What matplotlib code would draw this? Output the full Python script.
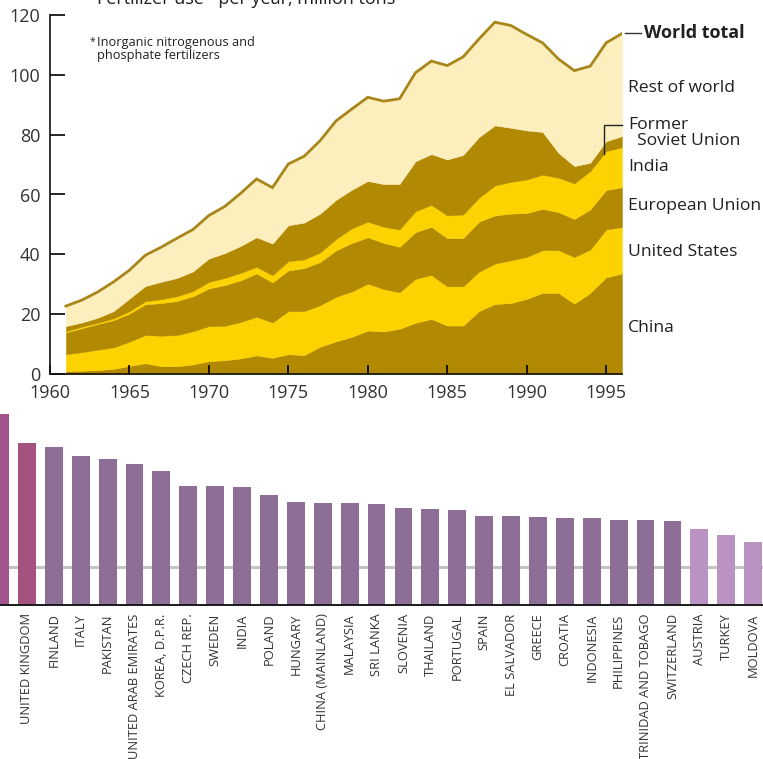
import matplotlib
matplotlib.use('Agg')
import matplotlib.pyplot as plt
import numpy as np

plt.rcParams['font.family'] = ['Open Sans', 'DejaVu Sans']

# fertilizer use by region, million tons per year
years = list(range(1961, 1997))
china = [0.9, 1.1, 1.3, 1.7, 2.7, 3.6, 2.6, 2.6, 3.2, 4.3, 4.6, 5.2, 6.2, 5.4, 6.6, 6.3,
         9.1, 10.9, 12.4, 14.5, 14.2, 15.1, 17.1, 18.4, 16.2, 16.2, 21.0, 23.4, 23.7, 25.1,
         27.1, 27.1, 23.5, 27.1, 32.3, 33.6]
united_states = [5.7, 6.2, 6.8, 7.2, 8.1, 9.4, 10.2, 10.4, 11.1, 11.7, 11.5, 12.2, 12.9, 11.8,
                 14.4, 14.7, 13.9, 14.9, 15.2, 15.7, 14.2, 12.2, 14.7, 14.7, 13.1, 13.1, 13.2,
                 13.5, 14.3, 14.0, 14.3, 14.3, 15.6, 14.5, 16.0, 15.5]
european_union = [7.3, 8.0, 8.6, 9.1, 9.4, 10.3, 10.9, 11.4, 11.7, 12.6, 13.6, 13.9, 14.5, 13.4,
                  13.6, 14.4, 14.4, 15.5, 16.2, 15.5, 15.4, 15.2, 15.6, 16.1, 16.1, 16.1, 16.7,
                  16.1, 15.6, 14.7, 13.8, 12.7, 12.7, 13.4, 13.2, 13.3]
india = [0.4, 0.5, 0.4, 0.6, 0.8, 1.0, 1.3, 1.6, 1.7, 2.2, 2.4, 2.5, 2.2, 2.4, 3.1, 2.9, 3.2,
         3.8, 4.9, 5.2, 5.4, 5.8, 7.0, 7.3, 7.6, 7.9, 8.0, 10.0, 10.6, 11.2, 11.4, 11.5, 11.9,
         12.8, 13.0, 13.4]
former_ussr = [1.7, 1.4, 1.7, 2.4, 4.2, 5.1, 5.8, 6.1, 6.6, 7.8, 8.3, 9.0, 9.9, 10.6, 12.0,
               12.3, 13.0, 13.1, 12.9, 13.6, 14.3, 15.2, 16.7, 17.0, 18.7, 19.9, 20.3, 20.1,
               18.1, 16.4, 14.3, 8.3, 5.8, 2.8, 3.3, 3.7]
rest_of_world = [6.7, 7.5, 8.6, 9.8, 9.5, 10.3, 11.6, 13.3, 14.0, 14.4, 15.6, 17.6, 19.5, 18.7,
                 20.5, 22.2, 24.4, 26.4, 27.0, 28.0, 27.7, 28.5, 29.6, 31.1, 31.4, 32.8, 32.8,
                 34.5, 34.2, 32.1, 29.8, 31.4, 31.9, 32.3, 32.9, 34.3]

series_labels = ['China', 'United States', 'European Union', 'India',
                 'Former\n  Soviet Union', 'Rest of world']
label_y = [15.4, 40.8, 56.2, 69.2, 80.6, 95.7]

# bar chart (left-most bar is cut off in the original)
countries = ['', 'UNITED KINGDOM', 'FINLAND', 'ITALY', 'PAKISTAN', 'UNITED ARAB EMIRATES',
             'KOREA, D.P.R.', 'CZECH REP.', 'SWEDEN', 'INDIA', 'POLAND', 'HUNGARY',
             'CHINA (MAINLAND)', 'MALAYSIA', 'SRI LANKA', 'SLOVENIA', 'THAILAND', 'PORTUGAL',
             'SPAIN', 'EL SALVADOR', 'GREECE', 'CROATIA', 'INDONESIA', 'PHILIPPINES',
             'TRINIDAD AND TOBAGO', 'SWITZERLAND', 'AUSTRIA', 'TURKEY', 'MOLDOVA']
bar_values = [191, 162, 158, 149, 146, 141, 134, 119, 119, 118, 110, 103, 102, 102, 101,
              97, 96, 95, 89, 89, 88, 87, 87, 85, 85, 84, 76, 70, 63]
reference_value = 38

DARK = '#B28903'
YELLOW = '#FCD200'
CREAM = '#FDEEBE'
LINE = '#A8861A'
TEXT = '#231F20'

fig = plt.figure(figsize=(7.63, 7.59), dpi=100)

# ---- top: stacked area chart ----
ax1 = fig.add_axes([50 / 763, 1 - 374 / 759, 572 / 763, 359 / 759])
layers = [china, united_states, european_union, india, former_ussr, rest_of_world]
ax1.stackplot(years, *layers, colors=[DARK, YELLOW, DARK, YELLOW, DARK, CREAM],
              edgecolor='face', linewidth=0.3)
total = np.sum(np.array(layers), axis=0)
ax1.plot(years, total, color=LINE, lw=2, solid_joinstyle='miter')

ax1.set_xlim(1960, 1996)
ax1.set_ylim(0, 120)
ax1.set_xticks(range(1960, 1996, 5))
ax1.set_yticks(range(0, 121, 20))
for s in ['top', 'right']:
    ax1.spines[s].set_visible(False)
for s in ['left', 'bottom']:
    ax1.spines[s].set_linewidth(1.2)
    ax1.spines[s].set_color('#111111')
    ax1.spines[s].set_zorder(5)
ax1.tick_params(axis='y', direction='in', length=11, width=1.2, pad=7,
                labelsize=13, labelcolor='#333333')
ax1.tick_params(axis='x', direction='in', length=6.5, width=1.2, pad=7,
                labelsize=13, labelcolor='#333333')
ax1.patch.set_alpha(0)

for lab, ly in zip(series_labels, label_y):
    ax1.text(1996.4, ly, lab, fontsize=12.6, color=TEXT, va='center', ha='left',
             clip_on=False, linespacing=1.0)
ax1.text(1997.4, 114.0, 'World total', fontsize=13, fontweight='bold', color=TEXT,
         va='center', ha='left', clip_on=False)
ax1.plot([1996.2, 1997.2], [114.0, 114.0], color='#333333', lw=1, clip_on=False)
# leader for Former Soviet Union
ax1.plot([1994.85, 1994.85, 1996.0], [73.5, 83.3, 83.3], color='#222222', lw=1,
         clip_on=False, zorder=6)

ax1.text(1962.5, 111.0, '*', fontsize=7.5, color=TEXT, va='center', ha='left')
ax1.text(1962.95, 108.5, 'Inorganic nitrogenous and\nphosphate fertilizers', fontsize=9.2,
         color=TEXT, va='center', ha='left', linespacing=1.0)

fig.text(97 / 763, 1 - 4 / 759, 'Fertilizer use* per year, million tons', fontsize=13,
         color=TEXT, ha='left', va='baseline')

# ---- bottom: bar chart ----
ax2 = fig.add_axes([0, 1 - 605 / 759, 1, 205 / 759])
pos = np.arange(len(countries))
bar_colors = ['#A3548A', '#A5527F'] + ['#8C6E97'] * 24 + ['#BB93C3'] * 3
ax2.bar(pos, bar_values, width=0.663, color=bar_colors, zorder=2)
ax2.axhline(reference_value, color='#C4C4C4', lw=2.2, zorder=1)
ax2.set_xlim(1 - 20 / 27.15, 1 + 743 / 27.15)
ax2.set_ylim(0, 205)
ax2.set_yticks([])
ax2.set_xticks(pos)
ax2.set_xticklabels(countries, rotation=90, fontsize=9.3, color='#333333')
ax2.tick_params(axis='x', length=0, pad=6)
for s in ['top', 'right', 'left']:
    ax2.spines[s].set_visible(False)
ax2.spines['bottom'].set_linewidth(1.4)
ax2.spines['bottom'].set_color('#1a1a1a')
ax2.patch.set_alpha(0)

fig.savefig('out.png', dpi=100)
